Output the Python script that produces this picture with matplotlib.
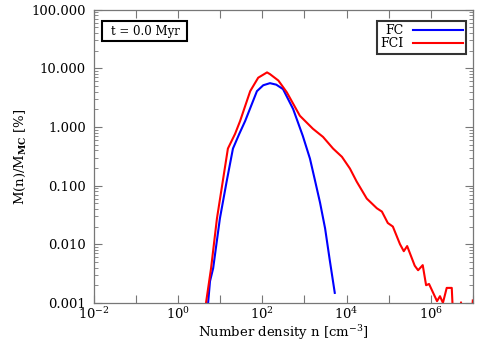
import numpy as np
import matplotlib
matplotlib.use("Agg")
import matplotlib.pyplot as plt
from matplotlib.patches import Rectangle
from matplotlib.ticker import FixedLocator, FuncFormatter, LogLocator, NullFormatter

plt.rcParams['font.family'] = 'DejaVu Serif'
plt.rcParams['mathtext.fontset'] = 'dejavuserif'

# log10 of number density [cm^-3] and mass fraction [%]
fc_logn = [0.71, 0.755, 0.83, 0.99, 1.15, 1.30, 1.45, 1.59, 1.87, 2.02, 2.18, 2.33,
           2.49, 2.73, 2.96, 3.13, 3.25, 3.37, 3.49, 3.60, 3.72]
fc_mass = [0.001, 0.00234, 0.0039, 0.0275, 0.117, 0.427, 0.76, 1.26, 4.07, 5.13,
           5.57, 5.25, 4.41, 2.02, 0.703, 0.288, 0.122, 0.051, 0.0186, 0.0054, 0.00148]

fci_logn = [0.66, 0.78, 0.92, 1.18, 1.35, 1.47, 1.71, 1.90, 2.11, 2.18, 2.38,
            2.58, 2.89, 3.20, 3.44, 3.68, 3.89, 4.08, 4.24, 4.48, 4.72,
            4.84, 4.98, 5.10, 5.27, 5.36, 5.44, 5.62, 5.70, 5.81, 5.89, 5.96,
            6.15, 6.22, 6.29, 6.38, 6.50, 6.55, 6.68, 6.72, 6.76, 6.95, 7.0]
fci_mass = [0.001, 0.0039, 0.0275, 0.427, 0.76, 1.26, 4.07, 6.9, 8.5, 7.94, 6.17,
            3.89, 1.55, 0.93, 0.676, 0.427, 0.309, 0.195, 0.117, 0.060, 0.041,
            0.036, 0.023, 0.020, 0.010, 0.0076, 0.0093, 0.0043, 0.0036, 0.0044, 0.002, 0.0021,
            0.00107, 0.0013, 0.001, 0.0018, 0.0018, 0.0003, 0.0003, 0.00102, 0.0003,
            0.0003, 0.0011]

fig = plt.figure(figsize=(4.8, 3.43), dpi=100)
ax = fig.add_axes([0.196, 0.117, 0.789, 0.855])

ax.plot(10 ** np.array(fc_logn), fc_mass, color='#0000ff', lw=1.5, label='FC')
ax.plot(10 ** np.array(fci_logn), fci_mass, color='#ff0000', lw=1.5, label='FCI')

ax.set_xscale('log')
ax.set_yscale('log')
ax.set_xlim(1e-2, 1e7)
ax.set_ylim(1e-3, 100)

decades = [10.0 ** k for k in range(-2, 8)]
ax.xaxis.set_major_locator(FixedLocator(decades))
ax.xaxis.set_major_formatter(FuncFormatter(
    lambda v, p: r'10$^{%d}$' % round(np.log10(v)) if round(np.log10(v)) % 2 == 0 and v < 1e7 else ''))
ax.xaxis.set_minor_formatter(NullFormatter())
ax.xaxis.set_minor_locator(FixedLocator([]))

ax.yaxis.set_major_locator(FixedLocator([1e-3, 1e-2, 1e-1, 1, 10, 100]))
ax.yaxis.set_major_formatter(FuncFormatter(lambda v, p: '%.3f' % v))
ax.yaxis.set_minor_locator(LogLocator(base=10, subs=np.arange(2, 10)))
ax.yaxis.set_minor_formatter(NullFormatter())

for s in ax.spines.values():
    s.set_color('#777777')
    s.set_linewidth(0.9)
ax.tick_params(which='both', direction='in', top=True, right=True, color='#777777',
               labelsize=9.5)
ax.tick_params(axis='y', pad=6)
ax.tick_params(axis='x', pad=2.5)
ax.tick_params(which='major', length=6, width=0.8)
ax.tick_params(which='minor', length=3, width=0.6)

ax.set_xlabel(r'Number density n [cm$^{-3}$]', fontsize=9.5, labelpad=0.5)
ax.set_ylabel(r'M(n)/M$_{\mathbf{MC}}$ [%]', fontsize=9.5, labelpad=2)

# time stamp box
ax.add_patch(Rectangle((0.021, 0.892), 0.224, 0.068, transform=ax.transAxes,
                       facecolor='white', edgecolor='black', lw=1.5, zorder=5))
ax.text(0.135, 0.926, 't = 0.0 Myr', transform=ax.transAxes, fontsize=8.5,
        va='center', ha='center', zorder=6)

leg = ax.legend(loc='upper right', bbox_to_anchor=(0.983, 0.96), borderaxespad=0,
                markerfirst=False, fontsize=9, handlelength=4, handletextpad=0.8,
                fancybox=False, labelspacing=0.0, borderpad=0.25)
leg.get_frame().set_edgecolor('black')
leg.get_frame().set_linewidth(1.5)

fig.savefig('out.png', dpi=100)
